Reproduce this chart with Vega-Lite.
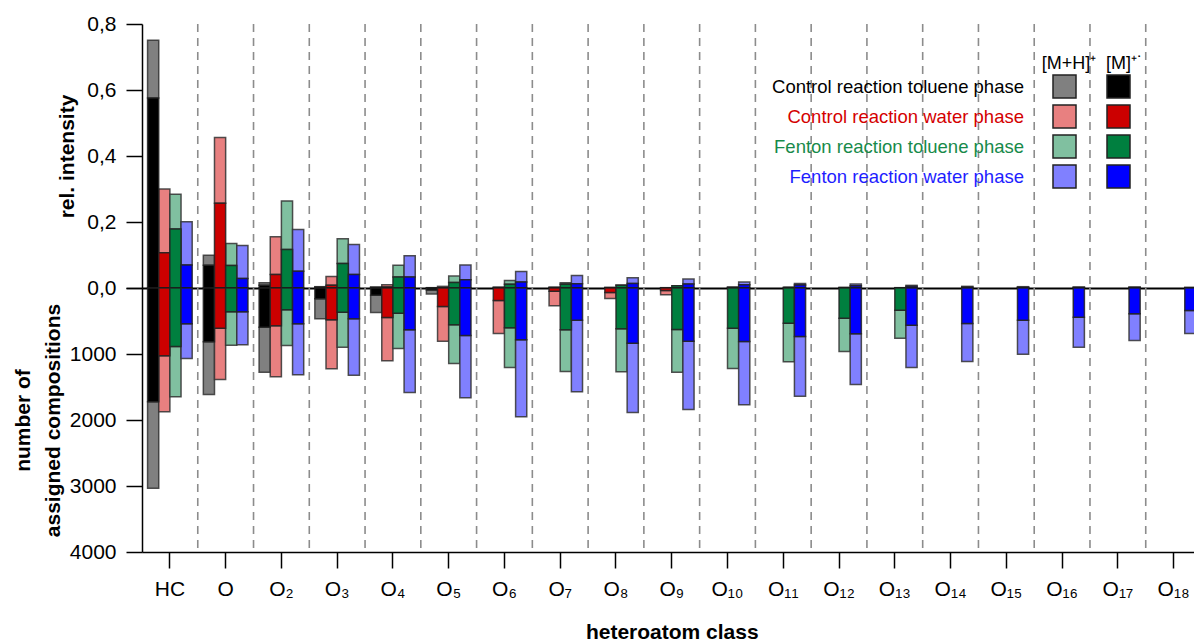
{
  "$schema": "https://vega.github.io/schema/vega-lite/v6.json",
  "background": "white",
  "padding": {"left": 12, "top": 13, "right": 0, "bottom": 0},
  "config": {
    "font": "Liberation Sans",
    "view": {"stroke": null},
    "axis": {"labelColor": "black", "titleColor": "black", "grid": false}
  },
  "datasets": {
    "classes": [
      {"cls": "O"}, {"cls": "O₂"}, {"cls": "O₃"}, {"cls": "O₄"}, {"cls": "O₅"}, {"cls": "O₆"},
      {"cls": "O₇"}, {"cls": "O₈"}, {"cls": "O₉"}, {"cls": "O₁₀"}, {"cls": "O₁₁"}, {"cls": "O₁₂"},
      {"cls": "O₁₃"}, {"cls": "O₁₄"}, {"cls": "O₁₅"}, {"cls": "O₁₆"}, {"cls": "O₁₇"}, {"cls": "O₁₈"}
    ],
    "bars": [
      {"cls": "HC", "grp": "Control reaction toluene phase", "intM": 0.576, "intAll": 0.751, "nM": 1725, "nAll": 3033},
      {"cls": "HC", "grp": "Control reaction water phase", "intM": 0.107, "intAll": 0.300, "nM": 1028, "nAll": 1876},
      {"cls": "HC", "grp": "Fenton reaction toluene phase", "intM": 0.179, "intAll": 0.284, "nM": 886, "nAll": 1649},
      {"cls": "HC", "grp": "Fenton reaction water phase", "intM": 0.070, "intAll": 0.201, "nM": 543, "nAll": 1068},
      {"cls": "O", "grp": "Control reaction toluene phase", "intM": 0.069, "intAll": 0.099, "nM": 816, "nAll": 1614},
      {"cls": "O", "grp": "Control reaction water phase", "intM": 0.257, "intAll": 0.456, "nM": 609, "nAll": 1386},
      {"cls": "O", "grp": "Fenton reaction toluene phase", "intM": 0.068, "intAll": 0.135, "nM": 361, "nAll": 866},
      {"cls": "O", "grp": "Fenton reaction water phase", "intM": 0.029, "intAll": 0.129, "nM": 361, "nAll": 861},
      {"cls": "O₂", "grp": "Control reaction toluene phase", "intM": 0.008, "intAll": 0.016, "nM": 593, "nAll": 1275},
      {"cls": "O₂", "grp": "Control reaction water phase", "intM": 0.041, "intAll": 0.155, "nM": 573, "nAll": 1346},
      {"cls": "O₂", "grp": "Fenton reaction toluene phase", "intM": 0.117, "intAll": 0.264, "nM": 331, "nAll": 871},
      {"cls": "O₂", "grp": "Fenton reaction water phase", "intM": 0.051, "intAll": 0.177, "nM": 543, "nAll": 1316},
      {"cls": "O₃", "grp": "Control reaction toluene phase", "intM": 0.003, "intAll": 0.004, "nM": 164, "nAll": 467},
      {"cls": "O₃", "grp": "Control reaction water phase", "intM": 0.008, "intAll": 0.035, "nM": 482, "nAll": 1225},
      {"cls": "O₃", "grp": "Fenton reaction toluene phase", "intM": 0.074, "intAll": 0.149, "nM": 366, "nAll": 896},
      {"cls": "O₃", "grp": "Fenton reaction water phase", "intM": 0.041, "intAll": 0.132, "nM": 467, "nAll": 1321},
      {"cls": "O₄", "grp": "Control reaction toluene phase", "intM": 0.002, "intAll": 0.003, "nM": 109, "nAll": 371},
      {"cls": "O₄", "grp": "Control reaction water phase", "intM": 0.003, "intAll": 0.010, "nM": 447, "nAll": 1104},
      {"cls": "O₄", "grp": "Fenton reaction toluene phase", "intM": 0.033, "intAll": 0.069, "nM": 381, "nAll": 917},
      {"cls": "O₄", "grp": "Fenton reaction water phase", "intM": 0.033, "intAll": 0.098, "nM": 634, "nAll": 1583},
      {"cls": "O₅", "grp": "Control reaction toluene phase", "intM": 0.000, "intAll": 0.001, "nM": 30, "nAll": 90},
      {"cls": "O₅", "grp": "Control reaction water phase", "intM": 0.001, "intAll": 0.005, "nM": 280, "nAll": 806},
      {"cls": "O₅", "grp": "Fenton reaction toluene phase", "intM": 0.017, "intAll": 0.036, "nM": 558, "nAll": 1144},
      {"cls": "O₅", "grp": "Fenton reaction water phase", "intM": 0.025, "intAll": 0.070, "nM": 720, "nAll": 1664},
      {"cls": "O₆", "grp": "Control reaction water phase", "intM": 0.001, "intAll": 0.003, "nM": 189, "nAll": 689},
      {"cls": "O₆", "grp": "Fenton reaction toluene phase", "intM": 0.011, "intAll": 0.023, "nM": 604, "nAll": 1205},
      {"cls": "O₆", "grp": "Fenton reaction water phase", "intM": 0.018, "intAll": 0.050, "nM": 785, "nAll": 1952},
      {"cls": "O₇", "grp": "Control reaction water phase", "intM": 0.001, "intAll": 0.003, "nM": 48, "nAll": 270},
      {"cls": "O₇", "grp": "Fenton reaction toluene phase", "intM": 0.011, "intAll": 0.016, "nM": 634, "nAll": 1265},
      {"cls": "O₇", "grp": "Fenton reaction water phase", "intM": 0.013, "intAll": 0.038, "nM": 487, "nAll": 1573},
      {"cls": "O₈", "grp": "Control reaction water phase", "intM": 0.001, "intAll": 0.002, "nM": 68, "nAll": 159},
      {"cls": "O₈", "grp": "Fenton reaction toluene phase", "intM": 0.008, "intAll": 0.009, "nM": 619, "nAll": 1270},
      {"cls": "O₈", "grp": "Fenton reaction water phase", "intM": 0.014, "intAll": 0.031, "nM": 836, "nAll": 1886},
      {"cls": "O₉", "grp": "Control reaction water phase", "intM": 0.000, "intAll": 0.001, "nM": 38, "nAll": 104},
      {"cls": "O₉", "grp": "Fenton reaction toluene phase", "intM": 0.007, "intAll": 0.007, "nM": 629, "nAll": 1275},
      {"cls": "O₉", "grp": "Fenton reaction water phase", "intM": 0.012, "intAll": 0.027, "nM": 806, "nAll": 1841},
      {"cls": "O₁₀", "grp": "Fenton reaction toluene phase", "intM": 0.002, "intAll": 0.003, "nM": 609, "nAll": 1220},
      {"cls": "O₁₀", "grp": "Fenton reaction water phase", "intM": 0.010, "intAll": 0.018, "nM": 811, "nAll": 1770},
      {"cls": "O₁₁", "grp": "Fenton reaction toluene phase", "intM": 0.002, "intAll": 0.002, "nM": 533, "nAll": 1119},
      {"cls": "O₁₁", "grp": "Fenton reaction water phase", "intM": 0.009, "intAll": 0.014, "nM": 735, "nAll": 1639},
      {"cls": "O₁₂", "grp": "Fenton reaction toluene phase", "intM": 0.001, "intAll": 0.002, "nM": 457, "nAll": 962},
      {"cls": "O₁₂", "grp": "Fenton reaction water phase", "intM": 0.007, "intAll": 0.012, "nM": 694, "nAll": 1462},
      {"cls": "O₁₃", "grp": "Fenton reaction toluene phase", "intM": 0.001, "intAll": 0.001, "nM": 336, "nAll": 760},
      {"cls": "O₁₃", "grp": "Fenton reaction water phase", "intM": 0.005, "intAll": 0.008, "nM": 563, "nAll": 1205},
      {"cls": "O₁₄", "grp": "Fenton reaction water phase", "intM": 0.003, "intAll": 0.005, "nM": 538, "nAll": 1114},
      {"cls": "O₁₅", "grp": "Fenton reaction water phase", "intM": 0.002, "intAll": 0.004, "nM": 487, "nAll": 1003},
      {"cls": "O₁₆", "grp": "Fenton reaction water phase", "intM": 0.002, "intAll": 0.003, "nM": 442, "nAll": 897},
      {"cls": "O₁₇", "grp": "Fenton reaction water phase", "intM": 0.002, "intAll": 0.003, "nM": 391, "nAll": 795},
      {"cls": "O₁₈", "grp": "Fenton reaction water phase", "intM": 0.001, "intAll": 0.002, "nM": 341, "nAll": 689}
    ]
  },
  "spacing": 0,
  "bounds": "flush",
  "resolve": {
    "scale": {"y": "independent", "fill": "independent", "color": "independent"},
    "legend": {"fill": "independent", "color": "independent"}
  },
  "vconcat": [
    {
      "width": 1059.5,
      "height": 264,
      "layer": [
        {
          "data": {"name": "classes"},
          "mark": {"type": "rule", "stroke": "#8c8c8c", "strokeWidth": 1.6, "strokeDash": [8, 6]},
          "encoding": {
            "x": {"field": "cls", "type": "nominal", "bandPosition": 0,
              "scale": {"domain": ["HC", "O", "O₂", "O₃", "O₄", "O₅", "O₆", "O₇", "O₈", "O₉", "O₁₀", "O₁₁", "O₁₂", "O₁₃", "O₁₄", "O₁₅", "O₁₆", "O₁₇", "O₁₈"], "paddingInner": 0, "paddingOuter": 0},
              "axis": {"labels": false, "ticks": false, "title": null, "domainColor": "black", "domainWidth": 2, "zindex": 1}}
          }
        },
        {
          "data": {"name": "bars"},
          "mark": {"type": "bar", "stroke": "#333333", "strokeWidth": 1.5, "strokeOpacity": 0.85},
          "encoding": {
            "x": {"field": "cls", "type": "nominal"},
            "xOffset": {"field": "grp", "type": "nominal", "scale": {"domain": ["Control reaction toluene phase", "Control reaction water phase", "Fenton reaction toluene phase", "Fenton reaction water phase"], "paddingInner": 0, "paddingOuter": 0.5}},
            "y": {"field": "intM", "type": "quantitative", "stack": null,
              "scale": {"domain": [0, 0.8], "nice": false},
              "axis": {"title": "rel. intensity", "values": [0, 0.2, 0.4, 0.6, 0.8], "labelExpr": "replace(format(datum.value, '.1f'), '.', ',')", "labelFlush": false, "tickSize": 16, "tickWidth": 1.5, "tickColor": "black", "labelFontSize": 21, "labelPadding": 10, "titleFontSize": 21, "titleFontWeight": "bold", "titlePadding": 9, "domainColor": "black", "domainWidth": 1.5, "zindex": 1}},
            "y2": {"field": "intAll"},
            "fill": {"field": "grp", "type": "nominal",
              "scale": {"domain": ["Control reaction toluene phase", "Control reaction water phase", "Fenton reaction toluene phase", "Fenton reaction water phase"], "range": ["#808080", "#E88080", "#80C0A0", "#8080FF"]},
              "legend": {"title": "[M+H]⁺", "orient": "none", "legendX": 900, "legendY": 31, "symbolType": "square", "symbolSize": 529, "symbolStrokeColor": "#222222", "symbolStrokeWidth": 1.5, "symbolOpacity": 1, "labelFontSize": 18.5, "labelAlign": "right", "labelOffset": -53, "labelLimit": 400, "rowPadding": 1, "titleFontSize": 18, "titleFontWeight": "normal", "titleColor": "black", "titleAnchor": "end", "titleAlign": "center", "titlePadding": 1,
                "encode": {
                  "title": {"update": {"dx": {"value": -10}}},
                  "labels": {"update": {"fill": {"signal": "datum.value === 'Control reaction water phase' ? '#d40000' : datum.value === 'Fenton reaction toluene phase' ? '#178a4a' : datum.value === 'Fenton reaction water phase' ? '#1e1eff' : '#000000'"}}}}}}
          }
        },
        {
          "data": {"name": "bars"},
          "mark": {"type": "bar", "stroke": "#222222", "strokeWidth": 1.5, "strokeOpacity": 0.85},
          "encoding": {
            "x": {"field": "cls", "type": "nominal"},
            "xOffset": {"field": "grp", "type": "nominal"},
            "y": {"field": "intM", "type": "quantitative", "stack": null},
            "color": {"field": "grp", "type": "nominal",
              "scale": {"range": ["#000000", "#CC0000", "#007F3F", "#0000FF"]},
              "legend": {"title": "[M]⁺˙", "orient": "none", "legendX": 964, "legendY": 31, "symbolType": "square", "symbolSize": 529, "symbolStrokeColor": "#222222", "symbolStrokeWidth": 1.5, "symbolOpacity": 1, "labelExpr": "''", "labelOffset": 0, "labelFontSize": 18.5, "rowPadding": 1, "titleFontSize": 18, "titleFontWeight": "normal", "titleColor": "black", "titleAnchor": "start", "titleAlign": "left", "titlePadding": 1}}
          }
        }
      ]
    },
    {
      "width": 1059.5,
      "height": 264,
      "layer": [
        {
          "data": {"name": "classes"},
          "mark": {"type": "rule", "stroke": "#8c8c8c", "strokeWidth": 1.6, "strokeDash": [8, 6]},
          "encoding": {
            "x": {"field": "cls", "type": "nominal", "bandPosition": 0,
              "scale": {"domain": ["HC", "O", "O₂", "O₃", "O₄", "O₅", "O₆", "O₇", "O₈", "O₉", "O₁₀", "O₁₁", "O₁₂", "O₁₃", "O₁₄", "O₁₅", "O₁₆", "O₁₇", "O₁₈"], "paddingInner": 0, "paddingOuter": 0},
              "axis": {"orient": "bottom", "title": "heteroatom class", "titleFontSize": 21, "titleFontWeight": "bold", "titlePadding": 22, "labelFontSize": 21, "labelPadding": 10, "labelAngle": 0, "tickSize": 16, "tickWidth": 1.5, "tickColor": "black", "domainColor": "black", "domainWidth": 1.5, "zindex": 1}}
          }
        },
        {
          "data": {"name": "bars"},
          "mark": {"type": "bar", "stroke": "#333333", "strokeWidth": 1.5, "strokeOpacity": 0.85},
          "encoding": {
            "x": {"field": "cls", "type": "nominal"},
            "xOffset": {"field": "grp", "type": "nominal", "scale": {"domain": ["Control reaction toluene phase", "Control reaction water phase", "Fenton reaction toluene phase", "Fenton reaction water phase"], "paddingInner": 0, "paddingOuter": 0.5}},
            "y": {"field": "nM", "type": "quantitative", "stack": null,
              "scale": {"domain": [0, 4000], "nice": false, "reverse": true},
              "axis": {"title": ["number of", "assigned compositions"], "values": [0, 500, 1000, 1500, 2000, 2500, 3000, 3500, 4000], "labelExpr": "datum.value === 0 ? '' : format(datum.value, 'd')", "labelFlush": false, "tickSize": 16, "tickWidth": 1.5, "tickColor": "black", "labelFontSize": 21, "labelPadding": 10, "titleFontSize": 21, "titleFontWeight": "bold", "titleLineHeight": 30, "titlePadding": 6, "domainColor": "black", "domainWidth": 1.5, "zindex": 1}},
            "y2": {"field": "nAll"},
            "fill": {"field": "grp", "type": "nominal",
              "scale": {"domain": ["Control reaction toluene phase", "Control reaction water phase", "Fenton reaction toluene phase", "Fenton reaction water phase"], "range": ["#808080", "#E88080", "#80C0A0", "#8080FF"]},
              "legend": null}
          }
        },
        {
          "data": {"name": "bars"},
          "mark": {"type": "bar", "stroke": "#222222", "strokeWidth": 1.5, "strokeOpacity": 0.85},
          "encoding": {
            "x": {"field": "cls", "type": "nominal"},
            "xOffset": {"field": "grp", "type": "nominal"},
            "y": {"field": "nM", "type": "quantitative", "stack": null},
            "color": {"field": "grp", "type": "nominal",
              "scale": {"range": ["#000000", "#CC0000", "#007F3F", "#0000FF"]},
              "legend": null}
          }
        }
      ]
    }
  ]
}
